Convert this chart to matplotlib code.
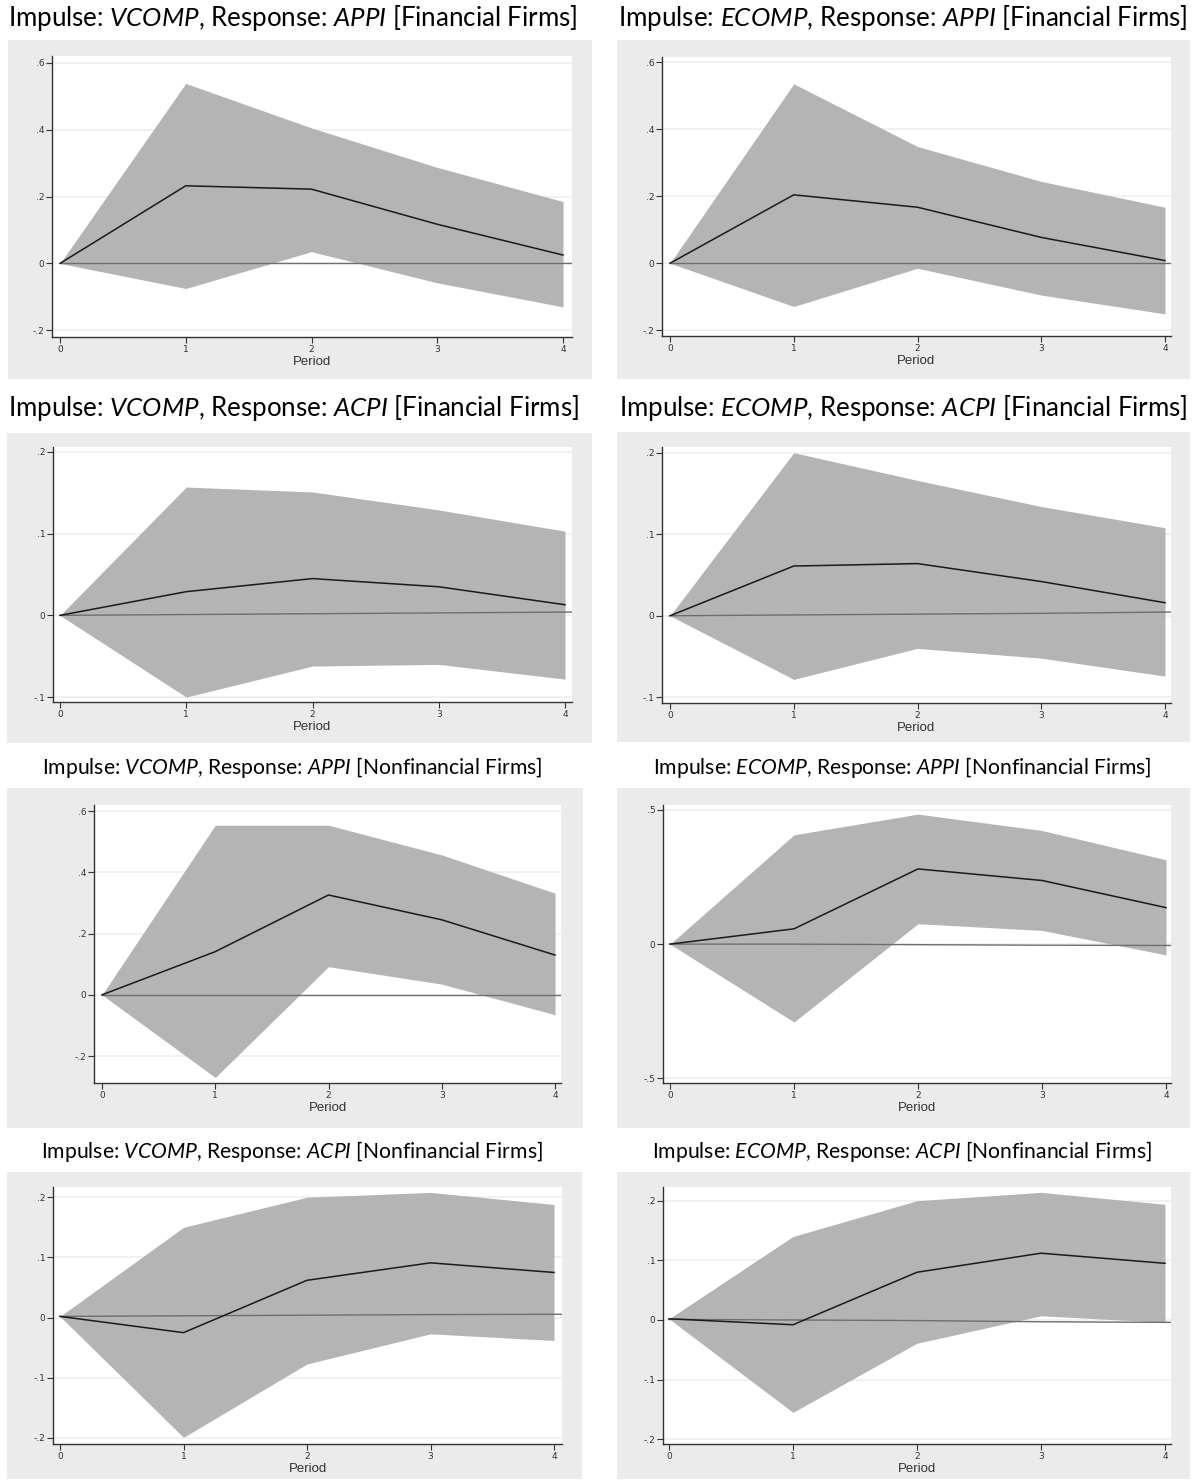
import matplotlib
matplotlib.use('Agg')
import matplotlib.pyplot as plt
from matplotlib.patches import Rectangle

plt.rcParams['mathtext.fontset'] = 'custom'
plt.rcParams['mathtext.rm'] = 'Lato'
plt.rcParams['mathtext.it'] = 'Lato:italic'

W, H = 1193, 1481
periods = [0, 1, 2, 3, 4]

# VCOMP -> APPI, financial firms
vcomp_appi_fin_irf = [0.0, 0.232, 0.222, 0.117, 0.025]
vcomp_appi_fin_lo = [0.0, -0.075, 0.035, -0.058, -0.130]
vcomp_appi_fin_hi = [0.0, 0.538, 0.405, 0.287, 0.185]
vcomp_appi_fin_ref = [0.0, 0.0, 0.0, 0.0, 0.0]

# ECOMP -> APPI, financial firms
ecomp_appi_fin_irf = [0.0, 0.204, 0.167, 0.077, 0.008]
ecomp_appi_fin_lo = [0.0, -0.129, -0.015, -0.095, -0.151]
ecomp_appi_fin_hi = [0.0, 0.535, 0.348, 0.244, 0.167]
ecomp_appi_fin_ref = [0.0, 0.0, 0.0, 0.0, 0.0]

# VCOMP -> ACPI, financial firms
vcomp_acpi_fin_irf = [0.0, 0.029, 0.045, 0.035, 0.013]
vcomp_acpi_fin_lo = [0.0, -0.100, -0.062, -0.060, -0.078]
vcomp_acpi_fin_hi = [0.0, 0.157, 0.151, 0.129, 0.103]
vcomp_acpi_fin_ref = [0.0, 0.001, 0.002, 0.003, 0.004]

# ECOMP -> ACPI, financial firms
ecomp_acpi_fin_irf = [0.0, 0.061, 0.064, 0.042, 0.016]
ecomp_acpi_fin_lo = [0.0, -0.078, -0.040, -0.052, -0.074]
ecomp_acpi_fin_hi = [0.0, 0.200, 0.166, 0.134, 0.108]
ecomp_acpi_fin_ref = [0.0, 0.001, 0.002, 0.003, 0.0045]

# VCOMP -> APPI, nonfinancial firms
vcomp_appi_nf_irf = [0.0, 0.141, 0.326, 0.245, 0.130]
vcomp_appi_nf_lo = [0.0, -0.270, 0.092, 0.035, -0.065]
vcomp_appi_nf_hi = [0.0, 0.554, 0.554, 0.457, 0.332]
vcomp_appi_nf_ref = [0.0, 0.0, 0.0, 0.0, 0.0]

# ECOMP -> APPI, nonfinancial firms
ecomp_appi_nf_irf = [0.0, 0.057, 0.280, 0.237, 0.136]
ecomp_appi_nf_lo = [0.0, -0.290, 0.076, 0.051, -0.040]
ecomp_appi_nf_hi = [0.0, 0.407, 0.484, 0.423, 0.314]
ecomp_appi_nf_ref = [0.0, 0.0, -0.002, -0.004, -0.005]

# VCOMP -> ACPI, nonfinancial firms
vcomp_acpi_nf_irf = [0.002, -0.025, 0.062, 0.091, 0.075]
vcomp_acpi_nf_lo = [0.002, -0.199, -0.077, -0.027, -0.038]
vcomp_acpi_nf_hi = [0.002, 0.150, 0.200, 0.208, 0.188]
vcomp_acpi_nf_ref = [0.002, 0.003, 0.004, 0.005, 0.0055]

# ECOMP -> ACPI, nonfinancial firms
ecomp_acpi_nf_irf = [0.002, -0.008, 0.080, 0.112, 0.095]
ecomp_acpi_nf_lo = [0.002, -0.155, -0.039, 0.007, -0.004]
ecomp_acpi_nf_hi = [0.002, 0.140, 0.200, 0.214, 0.194]
ecomp_acpi_nf_ref = [0.001, 0.0, -0.001, -0.003, -0.004]

titles = [
    [r'Impulse: $\mathit{VCOMP}$, Response: $\mathit{APPI}$ [Financial Firms]',
     r'Impulse: $\mathit{ECOMP}$, Response: $\mathit{APPI}$ [Financial Firms]'],
    [r'Impulse: $\mathit{VCOMP}$, Response: $\mathit{ACPI}$ [Financial Firms]',
     r'Impulse: $\mathit{ECOMP}$, Response: $\mathit{ACPI}$ [Financial Firms]'],
    [r'Impulse: $\mathit{VCOMP}$, Response: $\mathit{APPI}$ [Nonfinancial Firms]',
     r'Impulse: $\mathit{ECOMP}$, Response: $\mathit{APPI}$ [Nonfinancial Firms]'],
    [r'Impulse: $\mathit{VCOMP}$, Response: $\mathit{ACPI}$ [Nonfinancial Firms]',
     r'Impulse: $\mathit{ECOMP}$, Response: $\mathit{ACPI}$ [Nonfinancial Firms]'],
]

yticks_list = [
    [-0.2, 0, 0.2, 0.4, 0.6], [-0.2, 0, 0.2, 0.4, 0.6],
    [-0.1, 0, 0.1, 0.2], [-0.1, 0, 0.1, 0.2],
    [-0.2, 0, 0.2, 0.4, 0.6], [-0.5, 0, 0.5],
    [-0.2, -0.1, 0, 0.1, 0.2], [-0.2, -0.1, 0, 0.1, 0.2],
]

series = [
    (vcomp_appi_fin_irf, vcomp_appi_fin_lo, vcomp_appi_fin_hi, vcomp_appi_fin_ref),
    (ecomp_appi_fin_irf, ecomp_appi_fin_lo, ecomp_appi_fin_hi, ecomp_appi_fin_ref),
    (vcomp_acpi_fin_irf, vcomp_acpi_fin_lo, vcomp_acpi_fin_hi, vcomp_acpi_fin_ref),
    (ecomp_acpi_fin_irf, ecomp_acpi_fin_lo, ecomp_acpi_fin_hi, ecomp_acpi_fin_ref),
    (vcomp_appi_nf_irf, vcomp_appi_nf_lo, vcomp_appi_nf_hi, vcomp_appi_nf_ref),
    (ecomp_appi_nf_irf, ecomp_appi_nf_lo, ecomp_appi_nf_hi, ecomp_appi_nf_ref),
    (vcomp_acpi_nf_irf, vcomp_acpi_nf_lo, vcomp_acpi_nf_hi, vcomp_acpi_nf_ref),
    (ecomp_acpi_nf_irf, ecomp_acpi_nf_lo, ecomp_acpi_nf_hi, ecomp_acpi_nf_ref),
]

# layout in pixels: gray box, axes box (left, top, right, bottom), x pixel of period 0 and 4, ylim
layout = [
    ((8, 40, 592, 379), (52, 56, 572, 337), (60, 563), (-0.22, 0.62)),
    ((617, 40, 1190, 379), (662, 57, 1171, 336), (670, 1165), (-0.217, 0.615)),
    ((7, 433, 592, 743), (53, 447, 572, 702), (60, 565), (-0.106, 0.206)),
    ((617, 432, 1190, 742), (662, 447, 1171, 703), (670, 1165), (-0.107, 0.207)),
    ((7, 788, 583, 1128), (94, 805, 561, 1083), (102, 555), (-0.288, 0.62)),
    ((617, 788, 1190, 1128), (663, 805, 1171, 1083), (670, 1166), (-0.517, 0.518)),
    ((7, 1172, 582, 1479), (53, 1187, 562, 1444), (60, 554), (-0.21, 0.217)),
    ((617, 1172, 1190, 1479), (663, 1187, 1171, 1444), (669, 1165), (-0.208, 0.223)),
]

# title centre x, centre y, width in pixels
title_pos = [
    [(293, 18, 570), (903, 18, 568)],
    [(293, 408, 570), (903, 408, 568)],
    [(292, 768, 501), (902, 768, 499)],
    [(292, 1151, 501), (902, 1151, 500)],
]


def stata_fmt(v):
    if abs(v) < 1e-9:
        return '0'
    s = '%g' % v
    return s.replace('0.', '.')


fig = plt.figure(figsize=(W / 100, H / 100), dpi=100)
fig.patch.set_facecolor('white')
renderer = fig.canvas.get_renderer()

for i, (box, axbox, xt, ylim) in enumerate(layout):
    bx0, by0, bx1, by1 = box
    fig.add_artist(Rectangle((bx0 / W, 1 - by1 / H), (bx1 - bx0) / W, (by1 - by0) / H,
                             transform=fig.transFigure, facecolor='#ebebeb',
                             edgecolor='none', zorder=0))
    l, t, r, b = axbox
    ax = fig.add_axes([l / W, 1 - b / H, (r - l) / W, (b - t) / H])
    ax.set_facecolor('white')
    unit = (xt[1] - xt[0]) / 4.0
    xlim = ((l - xt[0]) / unit, (r - xt[0]) / unit)
    irf, lo, hi, ref = series[i]
    ax.fill_between(periods, lo, hi, color='#b4b4b4', linewidth=0, zorder=2)
    ax.plot(periods + [xlim[1]], ref + [ref[-1]], color='#6e6e6e', lw=1.0, zorder=3)
    ax.plot(periods, irf, color='#1a1a1a', lw=1.1, zorder=4)
    ax.set_xlim(*xlim)
    ax.set_ylim(*ylim)
    ax.set_xticks(periods)
    ax.set_xticklabels([str(p) for p in periods])
    yt = yticks_list[i]
    ax.set_yticks(yt)
    ax.set_yticklabels([stata_fmt(v) for v in yt])
    for v in yt:
        ax.axhline(v, color='#eaf0f0', lw=1.2, zorder=1)
    for s in ['top', 'right']:
        ax.spines[s].set_visible(False)
    for s in ['left', 'bottom']:
        ax.spines[s].set_color('#333333')
        ax.spines[s].set_linewidth(1.0)
    ax.tick_params(length=4, width=0.8, color='#333333', labelsize=6.5,
                   labelcolor='#333333', pad=1.5)
    for lab in ax.get_xticklabels() + ax.get_yticklabels():
        lab.set_family('DejaVu Sans')
    ax.set_xlabel('Period', fontsize=9.5, color='#333333', family='Liberation Sans', labelpad=1.5)

for row in range(4):
    for col in range(2):
        cx, cy, tw = title_pos[row][col]
        txt = fig.text(cx / W, 1 - cy / H, titles[row][col], ha='center', va='center',
                       fontsize=20, family='Lato', color='black')
        w = txt.get_window_extent(renderer=renderer).width
        txt.set_fontsize(20 * tw / w)

fig.savefig('out.png', dpi=100, facecolor='white')
